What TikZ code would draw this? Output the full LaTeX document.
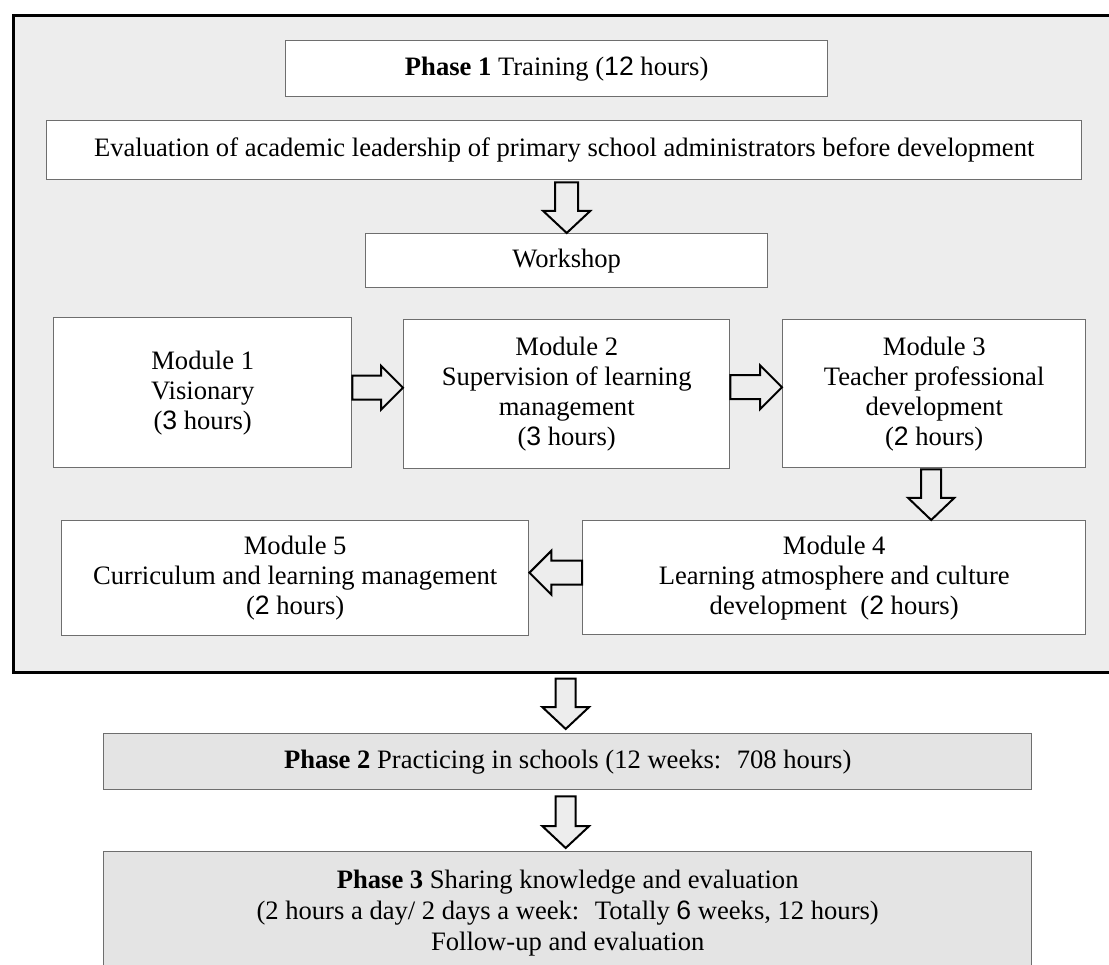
\documentclass[tikz,border=0pt]{standalone}
\usepackage{fontspec}
\setmainfont{Liberation Serif}
\newfontfamily\sansdigfont{Liberation Sans}
\newcommand{\sdig}[1]{{\sansdigfont #1}}
\usetikzlibrary{calc}
\definecolor{framegray}{HTML}{EDEDED}
\definecolor{phasegray}{HTML}{E4E4E4}
\definecolor{boxline}{HTML}{6E6E6E}
\tikzset{
  box/.style={draw=boxline, line width=1.4pt, fill=white, align=center, inner sep=0pt,
    anchor=north west, font=\fontsize{26.6}{30}\selectfont},
  phasebox/.style={box, fill=phasegray, font=\fontsize{26.6}{31}\selectfont},
  framebox/.style={draw=black, line width=2.6pt, fill=framegray, anchor=north west, inner sep=0pt},
  barrow/.style={draw=black, line width=2pt, fill=framegray, line join=miter},
}
\newcommand{\blockarrow}[4]{%
  \path (#2) coordinate (ba-t);
  \path (#1) coordinate (ba-s);
  \path ($(ba-t)!22pt!(ba-s)$) coordinate (ba-h);
  \draw[barrow] ($(ba-s)!#3!90:(ba-t)$) -- ($(ba-h)!#3!90:(ba-t)$) -- ($(ba-h)!#4!90:(ba-t)$)
    -- (ba-t) -- ($(ba-h)!#4!-90:(ba-t)$) -- ($(ba-h)!#3!-90:(ba-t)$) -- ($(ba-s)!#3!-90:(ba-t)$) -- cycle;
}
\begin{document}
\begin{tikzpicture}[x=1pt,y=-1pt]
\useasboundingbox (0,0) rectangle (1109,965);
\fill[white] (0,0) rectangle (1109,965);
\node[framebox, minimum width=1140pt, minimum height=657pt] (frame) at (12,14) {};
\node[box, minimum width=542pt, minimum height=56pt] (p1) at (285,40) {\textbf{Phase 1} Training (\sdig{12} hours)};
\node[box, minimum width=1035pt, minimum height=59pt] (eval) at (46,120) {Evaluation of academic leadership of primary school administrators before development};
\node[box, minimum width=402pt, minimum height=54pt] (work) at (365,233) {Workshop};
\node[box, minimum width=298pt, minimum height=150pt] (m1) at (53,317) {Module 1\\Visionary\\(\sdig{3} hours)};
\node[box, minimum width=326pt, minimum height=149pt] (m2) at (403,319) {Module 2\\Supervision of learning\\management\\(\sdig{3} hours)};
\node[box, minimum width=303pt, minimum height=148pt] (m3) at (782,319) {Module 3\\Teacher professional\\development\\(\sdig{2} hours)};
\node[box, minimum width=503pt, minimum height=114pt] (m4) at (582,520) {Module 4\\Learning atmosphere and culture\\development~ (\sdig{2} hours)};
\node[box, minimum width=467pt, minimum height=115pt] (m5) at (61,520) {Module 5\\Curriculum and learning management\\(\sdig{2} hours)};
\node[phasebox, minimum width=928pt, minimum height=56pt] (p2) at (103,733) {\textbf{Phase 2} Practicing in schools (12 weeks:~ 708 hours)};
\node[phasebox, minimum width=928pt, minimum height=122pt] (p3) at (103,851) {\textbf{Phase 3} Sharing knowledge and evaluation\\(2 hours a day/ 2 days a week:~ Totally \sdig{6} weeks, 12 hours)\\Follow-up and evaluation};
% arrows
\coordinate (s1) at ($(work.north |- eval.south)+(0,2)$);
\blockarrow{s1}{work.north}{11.5pt}{23.5pt}
\coordinate (s2) at ($(m1.east)+(0,-5)$);
\coordinate (t2) at (s2 -| m2.west);
\blockarrow{s2}{t2}{12pt}{22pt}
\coordinate (s3) at ($(m2.east)+(0,-7)$);
\coordinate (t3) at (s3 -| m3.west);
\blockarrow{s3}{t3}{12pt}{22pt}
\coordinate (s4) at ($(m3.south)+(-3,1)$);
\coordinate (t4) at (s4 |- m4.north);
\blockarrow{s4}{t4}{10pt}{23pt}
\coordinate (s5) at ($(m4.west)+(0,-5)$);
\coordinate (t5) at (s5 -| m5.east);
\blockarrow{s5}{t5}{12pt}{22pt}
\coordinate (s6) at ($(p2.north |- frame.south)+(-2,5)$);
\coordinate (t6) at ($(s6 |- p2.north)+(0,-4)$);
\blockarrow{s6}{t6}{10pt}{23.5pt}
\coordinate (s7) at ($(p2.south)+(-2,6)$);
\coordinate (t7) at ($(s7 |- p3.north)+(0,-3)$);
\blockarrow{s7}{t7}{10pt}{23.5pt}
\end{tikzpicture}
\end{document}
